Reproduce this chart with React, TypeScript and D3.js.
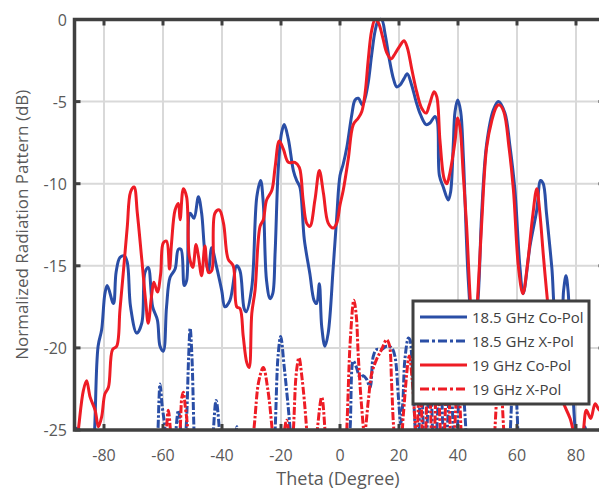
import React from "react";
import * as d3 from "d3";

type P = [number, number];

const xTicks = [-80, -60, -40, -20, 0, 20, 40, 60, 80];
const yTicks = [0, -5, -10, -15, -20, -25];

const seriesNames = ["18.5 GHz Co-Pol", "18.5 GHz X-Pol", "19 GHz Co-Pol", "19 GHz X-Pol"];
const seriesColors = ["#2a4ea6", "#2a4ea6", "#ee1c25", "#ee1c25"];
const seriesDashed = [false, true, false, true];

const co185: P[] = [
  [-90, -26], [-89.3, -24.9], [-88.5, -27], [-85, -30], [-83.3, -25.5], [-82, -19.9], [-80.8, -18.9],
  [-79.7, -16.7], [-78.9, -16.2], [-76.8, -17.3], [-75.9, -15.4], [-74.6, -14.5], [-73.1, -14.4],
  [-72.1, -14.8], [-71, -17.5], [-68.9, -19.1], [-67.2, -18.5], [-66.1, -15.4], [-65, -15.1],
  [-63.5, -17.5], [-61.9, -18.3], [-61, -19.9], [-59.9, -20.2], [-58.8, -17.5], [-57.6, -15.7],
  [-55.9, -15.2], [-54.8, -14.0], [-53.9, -14.0], [-52.8, -16.2], [-52, -15.9], [-50.8, -11.8],
  [-49.5, -12.1], [-48, -10.8], [-46.9, -11.8], [-45.8, -14.2], [-44.6, -15.3], [-43.5, -13.9],
  [-41.8, -15.1], [-40.1, -16.5], [-39, -17.5], [-37.3, -17.1], [-35, -15.0], [-33.9, -15.3],
  [-32.5, -17.6], [-31.8, -17.8], [-29.9, -16.3], [-28.2, -10.8], [-26.9, -9.8], [-26, -11.2],
  [-24.9, -15.9], [-23.7, -17.0], [-22.8, -16.7], [-22, -14.2], [-20.9, -9.0], [-19.8, -6.9],
  [-18.9, -6.4], [-17.5, -7.3], [-15.8, -9.2], [-14.7, -9.8], [-13.6, -10.2], [-12.1, -13.4],
  [-10.2, -15.5], [-8.8, -17.1], [-7.9, -17.3], [-7, -16.1], [-6.2, -18.7], [-5.1, -19.9],
  [-4, -19.1], [-2.3, -15.1], [-1.1, -12.0], [0, -9.5], [1.1, -8.8], [2.3, -7.8], [4, -5.8],
  [5.1, -4.9], [6.2, -4.8], [7.6, -5.2], [8.5, -4.8], [9.6, -3.8], [10.7, -2.2], [11.9, -0.7],
  [13, -0.05], [14.1, 0], [15.3, -0.9], [16.7, -2.4], [18.1, -3.6], [19.2, -4.1], [20.3, -4.0],
  [21.7, -3.6], [22.8, -3.3], [24.3, -4.0], [25.8, -5.0], [27.3, -5.8], [29.2, -6.4], [30.5, -6.3],
  [32.2, -5.9], [33, -6.2], [33.7, -9.5], [35, -10.2], [36.7, -11.0], [37.5, -10.5], [38.4, -7.6],
  [39, -5.6], [39.9, -4.9], [40.9, -5.6], [41.8, -8.3], [43.5, -15.9], [45.2, -19.5], [46.8, -17],
  [48, -11.9], [49.7, -7.6], [52, -5.5], [53.7, -5.0], [55.9, -5.7], [57.6, -7.7], [59.3, -10.4],
  [61, -15.1], [62.1, -16.7], [64.4, -13.8], [66.7, -11.6], [68, -9.8], [68.9, -10.0], [70, -11.8],
  [71.8, -15.1], [73.4, -18.5], [74.8, -18.8], [75.8, -16.5], [76.6, -15.6], [77.3, -16.5],
  [78.5, -21], [80, -25.5], [81.5, -27], [83, -24.8], [84.5, -27], [87, -30], [90, -30],
];

const x185: P[] = [
  [-90, -30], [-89.2, -24.9], [-88.5, -30], [-75, -35], [-62.2, -27], [-61.7, -25], [-61, -22.2],
  [-60.3, -23.5], [-59.3, -25], [-58.2, -30], [-56.4, -28], [-55.6, -25], [-54.8, -23.8], [-54, -25],
  [-53.3, -27], [-52.2, -25], [-51.3, -20.5], [-50.8, -18.8], [-50.2, -20.5], [-49.5, -25],
  [-48.5, -30], [-45, -35], [-43.5, -28], [-42.9, -25], [-42, -23.2], [-40.9, -25], [-40, -30],
  [-36.3, -28], [-35, -24.8], [-33.8, -28], [-28, -35], [-23, -28], [-22, -25], [-21, -20.5],
  [-20.1, -19.3], [-19, -21], [-16.9, -25], [-16, -28], [-10, -35], [2, -28], [3.4, -25],
  [4.5, -20.8], [5.6, -21.2], [6.8, -21.8], [7.9, -21.7], [9, -21.9], [10.2, -22.4], [11.3, -20.5],
  [12.4, -20.1], [14.1, -20.1], [15.8, -19.9], [17.5, -20.0], [18.6, -20.5], [19.8, -23.0],
  [20.6, -24.6], [21.3, -23.3], [22, -20.7], [23.2, -19.4], [23.7, -19.5], [24.3, -20.5],
  [25.5, -25], [26.3, -27], [27.5, -21.5], [28.8, -27], [30.5, -21.5], [32, -27], [34, -21.5],
  [35.5, -27], [37.5, -22], [39, -27], [41, -21.5], [43, -26], [45, -35], [55, -35], [57.5, -26],
  [59, -21], [60.5, -26], [62, -35], [90, -35],
];

const co19: P[] = [
  [-90, -27], [-88.7, -25], [-87, -22.6], [-85.9, -22.0], [-84.7, -23.0], [-83, -23.8],
  [-81.9, -24.8], [-80.8, -24.2], [-79.7, -22.8], [-78.5, -22.4], [-77.1, -20.1], [-75.7, -19.9],
  [-74.6, -17.7], [-73.4, -15.3], [-72.1, -12.6], [-71, -10.5], [-69.8, -10.2], [-68.7, -11.8],
  [-67.2, -14.6], [-65.8, -17.3], [-65, -18.5], [-63.8, -16.7], [-63.1, -16.0], [-61.9, -16.6],
  [-60.8, -15.5], [-59.9, -13.6], [-58.8, -13.5], [-57.8, -15.2], [-57.1, -13.6], [-55.9, -11.6],
  [-54.8, -11.2], [-54.2, -12.2], [-53.1, -10.3], [-52, -10.8], [-51.1, -14.4], [-49.9, -15.1],
  [-48.8, -13.7], [-48, -14.4], [-46.9, -15.6], [-45.8, -13.8], [-44.6, -15.4], [-43.5, -15.3],
  [-42.4, -11.8], [-40.9, -11.6], [-39.5, -12.4], [-37.9, -14.6], [-36.2, -15.0], [-35, -17.5],
  [-33.9, -17.6], [-32.8, -19.3], [-31.6, -20.9], [-30.8, -21.2], [-29.9, -17.9], [-28.8, -16.5],
  [-27.1, -12.6], [-26, -12.2], [-24.9, -11.0], [-23.1, -10.4], [-22, -9.0], [-20.6, -7.4],
  [-19.2, -7.9], [-17.5, -8.7], [-15.3, -8.7], [-13.8, -9.0], [-12.5, -11.0], [-11.3, -12.4],
  [-10.2, -12.6], [-8.5, -11.0], [-7, -9.2], [-5.6, -10.6], [-4, -12.4], [-2.3, -12.7],
  [-1.1, -12.4], [0, -11.3], [1.1, -10.4], [2.8, -8.5], [4.5, -6.4], [6.2, -6.0], [7.4, -5.6],
  [8.5, -4.5], [9.6, -2.4], [10.7, -0.7], [11.9, 0], [13, -0.2], [14.5, -1.1], [15.8, -2.0],
  [17.3, -2.4], [18.6, -2.1], [20.3, -1.6], [21.7, -1.3], [22.8, -1.7], [24.3, -3.0], [26, -4.4],
  [27.7, -5.4], [29.2, -5.7], [30.3, -5.2], [31.9, -4.4], [32.8, -4.7], [33.9, -7.4], [35.3, -9.7],
  [36.2, -10.0], [37.3, -9.3], [39, -7.4], [39.9, -6.0], [40.7, -6.6], [41.8, -9.5], [42.9, -12.5],
  [44.3, -17.5], [45.5, -20], [46.8, -16.5], [48, -12.5], [49.7, -7.8], [51.4, -6.2], [53.1, -5.3],
  [54, -5.2], [55.5, -5.6], [57.3, -7.8], [58.8, -10.4], [60.5, -15.1], [62, -16.7], [63.5, -15],
  [65.3, -12], [66.7, -10.3], [67.6, -11.5], [69, -14.5], [70, -16.5], [72, -20], [75, -23],
  [78, -24.3], [80.5, -25.8], [82, -25.5], [83.5, -23.8], [85, -24.3], [86.5, -23.4], [88, -23.8],
  [90, -22.6],
];

const x19: P[] = [
  [-90, -35], [-60, -35], [-58.8, -25], [-58.2, -23.8], [-57.5, -25], [-56.5, -30], [-54.2, -25],
  [-53.6, -23], [-53.1, -22.7], [-52.5, -23.5], [-51.6, -25], [-50.5, -30], [-35, -35],
  [-29.2, -25], [-27.5, -22], [-26, -21.2], [-24.5, -22.5], [-23, -25], [-21, -30], [-18.8, -25],
  [-18.1, -24.4], [-17.5, -25], [-16.6, -27], [-15.8, -25], [-14.8, -21.5], [-13.9, -20.6],
  [-12.9, -21.8], [-11.3, -25], [-10, -30], [-7.7, -25], [-6.2, -23.0], [-5.1, -25], [-4, -30],
  [0.5, -32], [2.3, -25], [3.5, -19.5], [4.7, -17.1], [5.5, -18], [6.2, -20.5], [7.3, -23.5],
  [8.3, -25.2], [9.6, -23.2], [10.7, -21.6], [12.4, -20.7], [14.1, -20.1], [15.8, -19.5],
  [16.7, -19.8], [17.5, -22.2], [18.1, -24.6], [18.8, -26], [20, -28], [21.5, -24], [23.5, -20.5],
  [24.5, -22], [26, -25.5], [27, -21.5], [28.5, -27], [30, -21], [31.5, -27], [33, -21.5],
  [34.7, -27], [36.5, -21.5], [38, -27], [40, -22], [41.5, -27], [44, -35], [51, -30],
  [52.5, -25], [54, -21], [55.5, -25], [57, -30], [65, -35], [90, -35],
];

const seriesData = [co185, x185, co19, x19];

const W = 599;
const H = 489;
const left = 74.5;
const right = 605.5;
const top = 19.5;
const bottom = 430;

const axisColor = "#404040";
const gridColor = "#d9d9d9";
const textColor = "#595959";
const font = "'Open Sans', 'Liberation Sans', sans-serif";

export default function App() {
  const x = d3.scaleLinear().domain([-90, 90]).range([left, right]);
  const y = d3.scaleLinear().domain([-25, 0]).range([bottom, top]);
  const line = d3
    .line<P>()
    .x((d) => x(d[0]))
    .y((d) => y(d[1]))
    .curve(d3.curveCatmullRom.alpha(0.5));

  const plotDash = "8 2 2.5 2";
  const legendDash = "9 3 3 3";
  const lx = 413;
  const ly = 301;
  const lw = 176;
  const lh = 103;
  const rowY = [317, 341, 365, 389];

  return (
    <svg
      width={W}
      height={H}
      style={{ position: "absolute", left: 0, top: 0, background: "#fff" }}
      fontFamily={font}
    >
      <defs>
        <clipPath id="plotClip">
          <rect x={left} y={top - 3} width={right - left} height={bottom - top + 3} />
        </clipPath>
      </defs>
      <rect x={0} y={0} width={W} height={H} fill="#fff" />
      {xTicks.map((t) => (
        <line key={"gx" + t} x1={x(t)} x2={x(t)} y1={top} y2={bottom} stroke={gridColor} strokeWidth={2} />
      ))}
      {yTicks
        .filter((t) => t !== 0 && t !== -25)
        .map((t) => (
          <line key={"gy" + t} x1={left} x2={right} y1={y(t)} y2={y(t)} stroke={gridColor} strokeWidth={2} />
        ))}
      <g clipPath="url(#plotClip)">
        {seriesData.map((d, i) => (
          <path
            key={"s" + i}
            d={line(d) || ""}
            fill="none"
            stroke={seriesColors[i]}
            strokeWidth={3}
            strokeDasharray={seriesDashed[i] ? plotDash : undefined}
            strokeLinejoin="round"
          />
        ))}
      </g>
      <rect x={left} y={top} width={right - left} height={bottom - top} fill="none" stroke={axisColor} strokeWidth={3.5} />
      {xTicks.map((t) => (
        <g key={"tx" + t}>
          <line x1={x(t)} x2={x(t)} y1={top} y2={top + 6} stroke={axisColor} strokeWidth={3} />
          <line x1={x(t)} x2={x(t)} y1={bottom} y2={bottom - 6} stroke={axisColor} strokeWidth={3} />
          <text x={x(t)} y={455} textAnchor="middle" dominantBaseline="central" fontSize={16} fill={textColor}>
            {t}
          </text>
        </g>
      ))}
      {yTicks.map((t) => (
        <g key={"ty" + t}>
          <line x1={left} x2={left + 6} y1={y(t)} y2={y(t)} stroke={axisColor} strokeWidth={3} />
          <line x1={right} x2={right - 7} y1={y(t)} y2={y(t)} stroke={axisColor} strokeWidth={3} />
          <text x={67} y={y(t)} textAnchor="end" dominantBaseline="central" fontSize={16} fill={textColor}>
            {t}
          </text>
        </g>
      ))}
      <text x={338} y={478} textAnchor="middle" dominantBaseline="central" fontSize={18} fill={textColor}>
        Theta (Degree)
      </text>
      <text
        transform={`translate(21, ${(top + bottom) / 2}) rotate(-90)`}
        textAnchor="middle"
        dominantBaseline="central"
        fontSize={17}
        fill={textColor}
      >
        Normalized Radiation Pattern (dB)
      </text>
      <rect x={lx} y={ly} width={lw} height={lh} fill="#fff" stroke={axisColor} strokeWidth={3} />
      {seriesNames.map((n, i) => (
        <g key={"lg" + i}>
          <line
            x1={420}
            x2={467}
            y1={rowY[i]}
            y2={rowY[i]}
            stroke={seriesColors[i]}
            strokeWidth={3}
            strokeDasharray={seriesDashed[i] ? legendDash : undefined}
          />
          <text x={472} y={rowY[i]} dominantBaseline="central" fontSize={15} fill="#404040">
            {n}
          </text>
        </g>
      ))}
    </svg>
  );
}
